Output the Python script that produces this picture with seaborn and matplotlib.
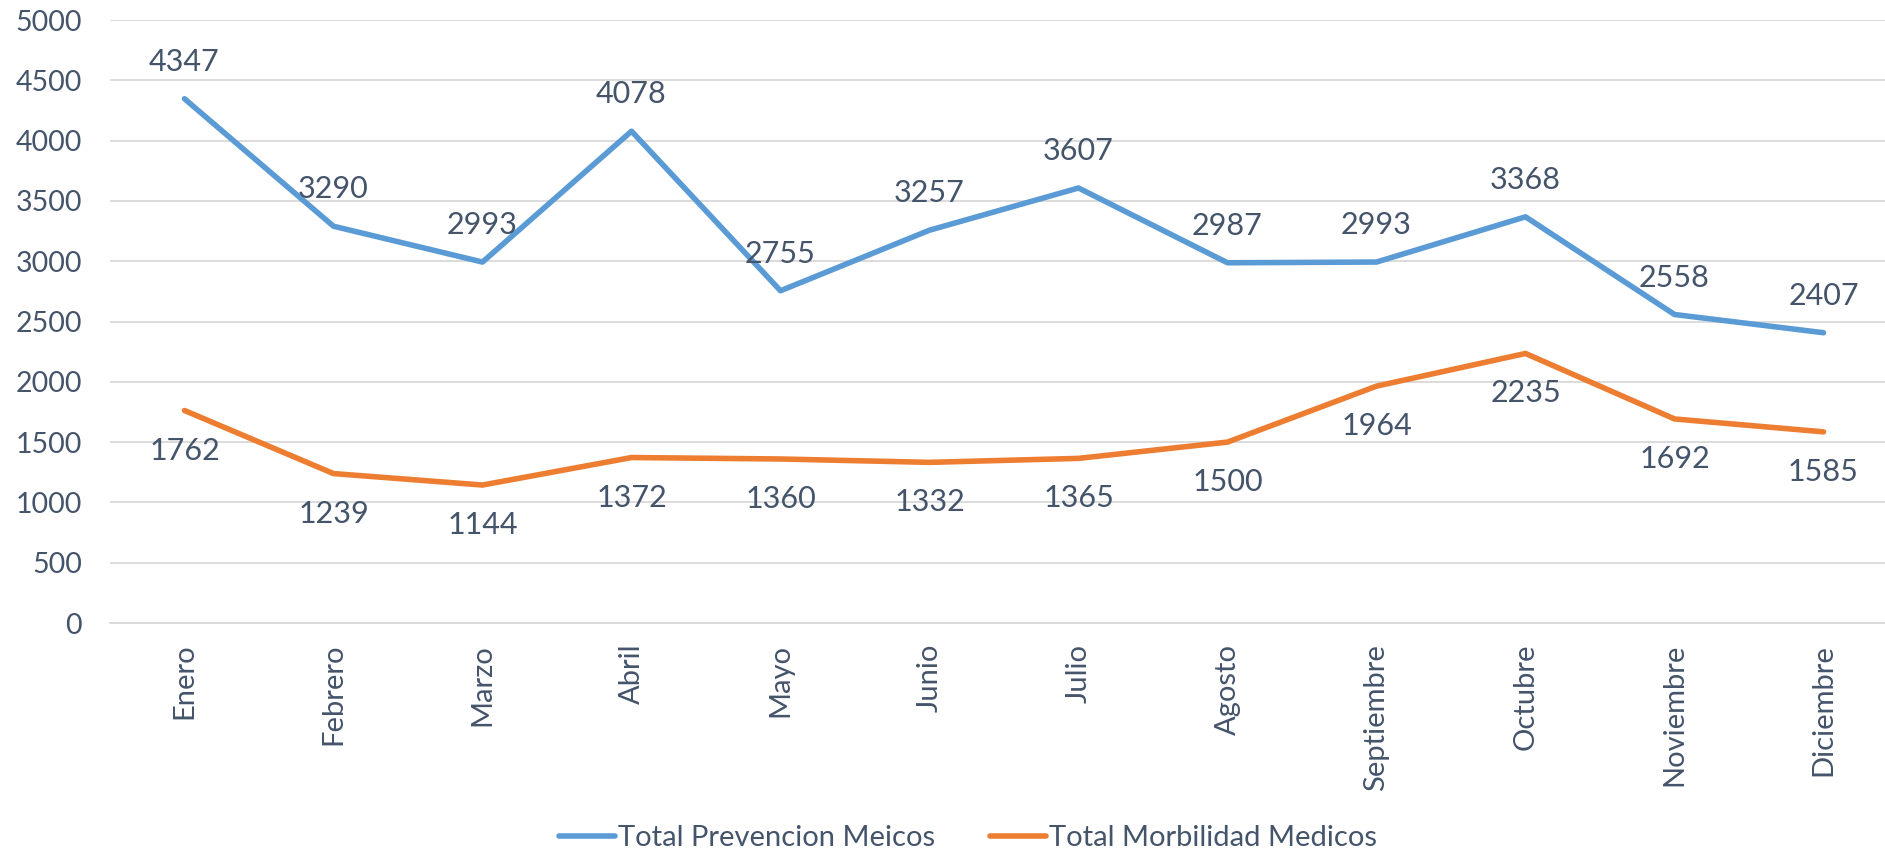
import matplotlib
matplotlib.use("Agg")
import matplotlib.pyplot as plt
import seaborn as sns
import pandas as pd
import numpy as np

months = ["Enero", "Febrero", "Marzo", "Abril", "Mayo", "Junio", "Julio",
          "Agosto", "Septiembre", "Octubre", "Noviembre", "Diciembre"]
prevencion = [4347, 3290, 2993, 4078, 2755, 3257, 3607, 2987, 2993, 3368, 2558, 2407]
morbilidad = [1762, 1239, 1144, 1372, 1360, 1332, 1365, 1500, 1964, 2235, 1692, 1585]
series_names = ["Total Prevencion Meicos", "Total Morbilidad Medicos"]
yticks = list(range(0, 5001, 500))

sns.set_theme(style="white")
plt.rcParams['font.family'] = ['Lato', 'DejaVu Sans']
TXT = "#44546A"
GRID = "#D9D9D9"
colors = ["#5B9BD5", "#ED7D31"]

df = pd.DataFrame({
    "mes": months * 2,
    "x": list(range(len(months))) * 2,
    "valor": prevencion + morbilidad,
    "serie": [series_names[0]] * len(months) + [series_names[1]] * len(months),
})

W, H = 1885, 852
fig = plt.figure(figsize=(W / 100, H / 100), dpi=100)
ax = fig.add_axes([110 / W, (H - 623) / H, 1788 / W, 603 / H])

sns.lineplot(data=df, x="x", y="valor", hue="serie", palette=colors,
             linewidth=4.0, ax=ax, legend=True, sort=False)
for line in ax.lines:
    line.set_solid_capstyle("round")
    line.set_solid_joinstyle("round")

ax.set_xlim(-0.5, len(months) - 0.5)
ax.set_ylim(0, 5000)
ax.set_yticks(yticks)
ax.set_yticklabels([str(v) for v in yticks])
ax.yaxis.grid(True, color=GRID, linewidth=1.3)
ax.set_axisbelow(True)
ax.set_xticks(range(len(months)))
ax.set_xticklabels(months, rotation=90)
ax.set_xticks(np.arange(-0.5, len(months), 1.0), minor=True)
ax.tick_params(axis="x", which="major", length=0, pad=15, labelsize=21, labelcolor=TXT)
ax.tick_params(axis="x", which="minor", length=10, width=1.3, color=GRID, direction="out")
ax.tick_params(axis="y", length=0, pad=20, labelsize=20.5, labelcolor=TXT)
ax.set_xlabel("")
ax.set_ylabel("")
for s in ["top", "right", "left"]:
    ax.spines[s].set_visible(False)
ax.spines["bottom"].set_color(GRID)
ax.spines["bottom"].set_linewidth(1.3)

for i, v in enumerate(prevencion):
    ax.annotate(str(v), (i, v), xytext=(0, 37), textcoords="offset pixels",
                ha="center", va="center", fontsize=22, color=TXT)
for i, v in enumerate(morbilidad):
    ax.annotate(str(v), (i, v), xytext=(0, -40), textcoords="offset pixels",
                ha="center", va="center", fontsize=22, color=TXT)

handles, labels = ax.get_legend_handles_labels()
ax.legend_.remove()
leg = fig.legend(handles, labels, loc="center", bbox_to_anchor=(968 / W, (H - 838) / H),
                 ncol=2, frameon=False, fontsize=21, handlelength=1.9,
                 handletextpad=0.1, columnspacing=1.9, borderpad=0)
for t in leg.get_texts():
    t.set_color(TXT)

fig.savefig("out.png", dpi=100)
